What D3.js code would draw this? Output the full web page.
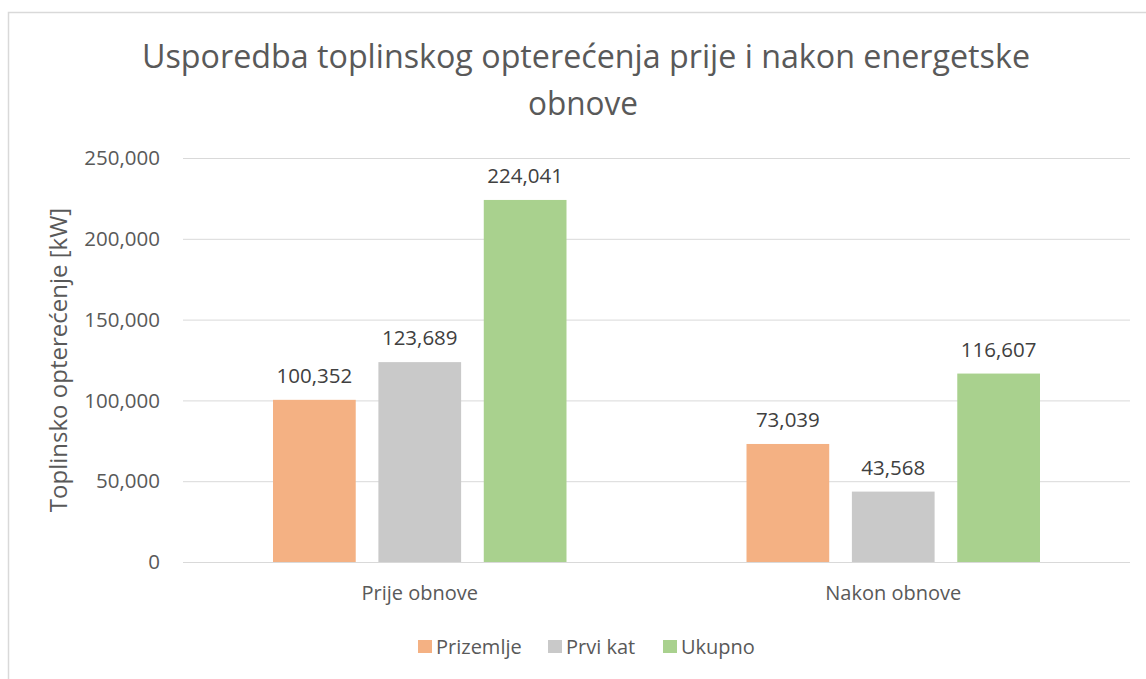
<!DOCTYPE html>
<html>
<head>
<meta charset="utf-8">
<script src="https://cdn.jsdelivr.net/npm/d3@7"></script>
<style>
  body { margin: 0; background: #fff; }
  svg { display: block; }
  text { font-family: "Open Sans", "Noto Sans", sans-serif; }
  .grid line { stroke: #d9d9d9; stroke-width: 1; }
  .grid path { display: none; }
</style>
</head>
<body>
<svg id="myGraph" width="1146" height="679"></svg>
<script>
var categories = ["Prije obnove", "Nakon obnove"];
var seriesNames = ["Prizemlje", "Prvi kat", "Ukupno"];
var prizemlje = [100352, 73039];
var prviKat = [123689, 43568];
var ukupno = [224041, 116607];
var yTicks = [0, 50000, 100000, 150000, 200000, 250000];
var colors = ["#f4b183", "#c9c9c9", "#a9d18e"];

var svgWidth = 1146;
var svgHeight = 679;
var plotLeft = 183, plotRight = 1130;
var plotTop = 158, plotBottom = 562;
var textColor = "#595959";

var series = [prizemlje, prviKat, ukupno];
var svg = d3.select("#myGraph");

// chart frame (cut off at right and bottom)
svg.append("path")
  .attr("d", "M8.5," + svgHeight + " V12.5 H" + svgWidth)
  .attr("fill", "none")
  .attr("stroke", "#d9d9d9")
  .attr("stroke-width", 1.5);

// title
svg.append("text")
  .attr("x", 586).attr("y", 68)
  .attr("text-anchor", "middle")
  .attr("fill", textColor)
  .attr("textLength", 888)
  .attr("lengthAdjust", "spacingAndGlyphs")
  .style("font-size", "33px")
  .text("Usporedba toplinskog opterećenja prije i nakon energetske");
svg.append("text")
  .attr("x", 583).attr("y", 115)
  .attr("text-anchor", "middle")
  .attr("fill", textColor)
  .attr("textLength", 110)
  .attr("lengthAdjust", "spacingAndGlyphs")
  .style("font-size", "33px")
  .text("obnove");

var yScale = d3.scaleLinear()
  .domain([0, 250000])
  .range([plotBottom, plotTop]);

var xScale = d3.scaleBand()
  .domain(categories)
  .range([plotLeft, plotRight]);

var innerScale = d3.scaleBand()
  .domain(seriesNames)
  .range([90, xScale.bandwidth() - 90])
  .paddingInner(0.215);

// gridlines
svg.append("g")
  .attr("class", "grid")
  .attr("transform", "translate(" + plotLeft + ",0)")
  .call(d3.axisLeft(yScale).tickValues(yTicks).tickSize(-(plotRight - plotLeft)).tickFormat(""));

// y tick labels
var fmt = d3.format(",");
svg.append("g")
  .selectAll("text")
  .data(yTicks)
  .enter()
  .append("text")
  .attr("x", 160)
  .attr("y", function(d){ return yScale(d); })
  .attr("dy", "0.35em")
  .attr("text-anchor", "end")
  .attr("fill", textColor)
  .style("font-size", "20.5px")
  .text(function(d){ return fmt(d); });

// bars + value labels
var groups = svg.append("g")
  .selectAll("g")
  .data(categories)
  .enter()
  .append("g")
  .attr("transform", function(d){ return "translate(" + xScale(d) + ",0)"; });

groups.each(function(cat, ci){
  var g = d3.select(this);
  seriesNames.forEach(function(name, si){
    var v = series[si][ci];
    g.append("rect")
      .attr("x", innerScale(name))
      .attr("y", yScale(v))
      .attr("width", innerScale.bandwidth())
      .attr("height", yScale(0) - yScale(v))
      .attr("fill", colors[si]);
    g.append("text")
      .attr("x", innerScale(name) + innerScale.bandwidth() / 2)
      .attr("y", yScale(v) - 17)
      .attr("text-anchor", "middle")
      .attr("fill", "#404040")
      .style("font-size", "20.5px")
      .text(fmt(v));
  });
});

// category labels
svg.append("g")
  .selectAll("text")
  .data(categories)
  .enter()
  .append("text")
  .attr("x", function(d){ return xScale(d) + xScale.bandwidth() / 2; })
  .attr("y", 600)
  .attr("text-anchor", "middle")
  .attr("fill", textColor)
  .style("font-size", "20px")
  .text(function(d){ return d; });

// y axis title
svg.append("text")
  .attr("transform", "translate(67,360) rotate(-90)")
  .attr("text-anchor", "middle")
  .attr("fill", textColor)
  .style("font-size", "24px")
  .text("Toplinsko opterećenje [kW]");

// legend
var legendX = [418, 548, 663];
var legend = svg.append("g")
  .selectAll("g")
  .data(seriesNames)
  .enter()
  .append("g")
  .attr("transform", function(d, i){ return "translate(" + legendX[i] + ",640)"; });
legend.append("rect")
  .attr("width", 14)
  .attr("height", 13)
  .attr("fill", function(d, i){ return colors[i]; });
legend.append("text")
  .attr("x", 18)
  .attr("y", 7)
  .attr("dy", "0.35em")
  .attr("fill", textColor)
  .style("font-size", "20px")
  .text(function(d){ return d; });
</script>
</body>
</html>
